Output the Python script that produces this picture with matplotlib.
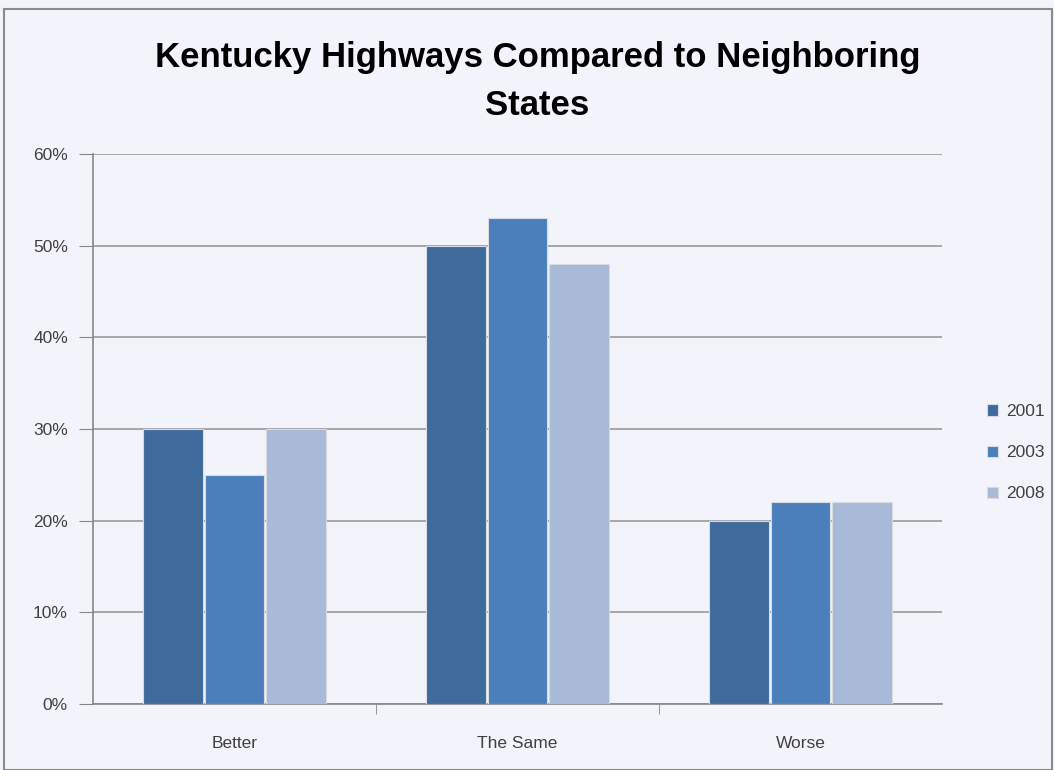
import matplotlib.pyplot as plt
import numpy as np
from matplotlib.patches import Rectangle
from matplotlib.ticker import PercentFormatter

categories = ["Better", "The Same", "Worse"]
years = ["2001", "2003", "2008"]
v2001 = [30, 50, 20]
v2003 = [25, 53, 22]
v2008 = [30, 48, 22]
colors = ["#3e6a9c", "#4b7fbc", "#a8bad8"]
bg = "#f3f4fb"

plt.rcParams['font.family'] = ['Liberation Sans', 'DejaVu Sans']

fig = plt.figure(figsize=(10.54, 7.70), dpi=100, facecolor=bg)
fig.patches.append(Rectangle((0.004, 0.0), 0.994, 0.988, transform=fig.transFigure,
                             fill=False, edgecolor="#8a8a8a", linewidth=1.5))
ax = fig.add_axes([0.0882, 0.0857, 0.8055, 0.7143], facecolor=bg)

x = np.arange(len(categories))
w = 0.218
for i, (vals, yr) in enumerate(zip([v2001, v2003, v2008], years)):
    ax.bar(x + (i - 1) * w, vals, w * 0.97, color=colors[i], label=yr,
           edgecolor="#d9dbe3", linewidth=0.8, zorder=3)

ax.set_xlim(-0.5, 2.5)
ax.set_ylim(0, 60)
ax.set_yticks(np.arange(0, 61, 10))
ax.yaxis.set_major_formatter(PercentFormatter(decimals=0))
ax.set_xticks(x)
ax.set_xticklabels(categories)
ax.set_xticks([0.5, 1.5], minor=True)
ax.tick_params(axis='x', which='major', length=0, pad=23, labelsize=12.5, labelcolor="#404040")
ax.tick_params(axis='x', which='minor', length=7, color="#868686", direction='out')
ax.tick_params(axis='y', length=10, color="#868686", labelsize=12.5, labelcolor="#404040", pad=8)
ax.grid(axis='y', color="#999999", linewidth=1.2, zorder=0)
for s in ['top', 'right']:
    ax.spines[s].set_visible(False)
for s in ['left', 'bottom']:
    ax.spines[s].set_color("#868686")
    ax.spines[s].set_linewidth(1.2)

fig.suptitle("Kentucky Highways Compared to Neighboring\nStates", x=0.51, y=0.947,
             fontsize=25, fontweight='bold', linespacing=1.6)

leg = ax.legend(loc='center left', bbox_to_anchor=(1.035, 0.457), frameon=False,
                fontsize=12.5, handlelength=0.6, handleheight=0.6, labelspacing=1.5,
                handletextpad=0.5, labelcolor="#404040")

fig.savefig("out.png", dpi=100, facecolor=bg)
